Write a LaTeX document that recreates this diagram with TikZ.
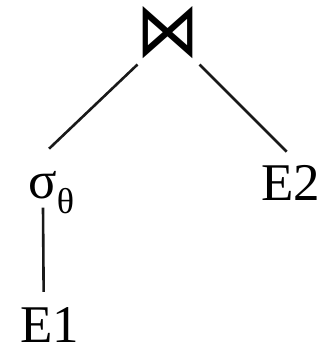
\documentclass[tikz,border=0pt]{standalone}
\usepackage{fontspec}
\setmainfont{Liberation Serif}
\newfontfamily\symfont{DejaVu Sans}
\usepackage{graphicx}
\usetikzlibrary{positioning}
\tikzset{
    % relation and operator labels
    rel/.style={inner sep=0pt, anchor=base west, font=\fontsize{53}{60}\selectfont},
    % tree edges
    edge/.style={line width=2.6pt, black!90},
}

\begin{document}
\begin{tikzpicture}[x=1pt, y=-1pt]
\useasboundingbox (0,0) rectangle (329,348);
\node[inner sep=0pt] (join) at (167.5,32.5) {\resizebox{63pt}{50pt}{\symfont ⋈}};
\node[rel] (sel) at (28,198) {σ\raisebox{-15pt}{\fontsize{36}{40}\selectfont θ}};
\node[rel] (etwo) at (261,200) {E2};
\node[rel] (eone) at (20,342) {E1};

\draw[edge] ([xshift=-30pt,yshift=-32pt]join.center) -- ([xshift=-2pt,yshift=22pt]sel.north);
\draw[edge] ([xshift=32pt,yshift=-32pt]join.center) -- ([xshift=-4pt,yshift=13pt]etwo.north);
\draw[edge] ([xshift=15pt,yshift=6pt]sel.south west) -- ([xshift=-6pt,yshift=15pt]eone.north);
\end{tikzpicture}
\end{document}
